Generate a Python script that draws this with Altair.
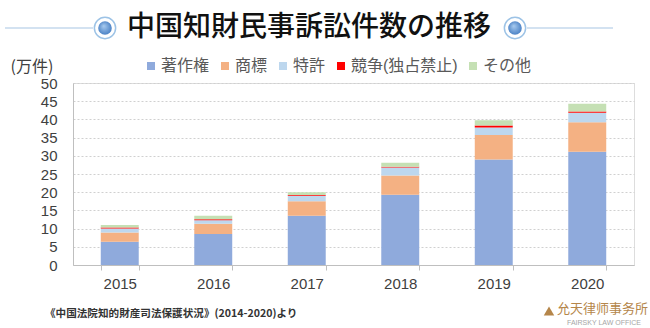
import altair as alt
import pandas as pd

years = ["2015", "2016", "2017", "2018", "2019", "2020"]
series = ["著作権", "商標", "特許", "競争(独占禁止)", "その他"]
copyright_v = [6.4, 8.5, 13.5, 19.3, 29.0, 31.1]
trademark_v = [2.5, 2.8, 4.0, 5.3, 6.7, 8.1]
patent_v = [1.1, 1.0, 1.5, 2.2, 2.1, 2.6]
competition_v = [0.3, 0.3, 0.2, 0.2, 0.5, 0.4]
other_v = [0.7, 0.9, 0.8, 1.1, 1.5, 2.1]
colors = ["#8FAADC", "#F4B183", "#BDD7EE", "#FF0000", "#C5E0B4"]
y_ticks = [0, 5, 10, 15, 20, 25, 30, 35, 40, 45, 50]

title_text = ["中国知財民事訴訟件数の推移"]
unit_text = "(万件)"
source_text = ["《中国法院知的財産司法保護状況》(2014-2020)より"]
logo_cn = ["允天律师事务所"]
logo_en = ["FAIRSKY LAW OFFICE"]

FONT = "Liberation Sans, Noto Sans CJK JP, sans-serif"
CJK = "Noto Sans CJK JP, sans-serif"

rows = []
for i, s in enumerate(series):
    vals = [copyright_v, trademark_v, patent_v, competition_v, other_v][i]
    for y, v in zip(years, vals):
        rows.append({"year": y, "series": s, "order": i, "value": v})
df = pd.DataFrame(rows)

bars = alt.Chart(df).mark_bar().encode(
    x=alt.X("year:N", title=None,
            scale=alt.Scale(paddingInner=0.594, paddingOuter=0.297),
            axis=alt.Axis(labelAngle=0, tickBand="extent", tickSize=5,
                          tickColor="#BFBFBF", domainColor="#BFBFBF",
                          labelPadding=6, labelFontSize=15, labelColor="#404040",
                          labelFont=FONT, grid=False)),
    y=alt.Y("value:Q", stack="zero", title=unit_text,
            scale=alt.Scale(domain=[0, 50], nice=False),
            axis=alt.Axis(values=y_ticks, ticks=False, domainColor="#BFBFBF",
                          gridColor="#D0D0D0", gridDash=[2, 2],
                          labelPadding=16, labelFontSize=15, labelColor="#404040",
                          labelFont=FONT, titleAngle=0, titleAlign="left",
                          titleBaseline="middle", titleX=-63, titleY=-17,
                          titleFontSize=16, titleFontWeight="normal",
                          titleColor="#404040", titleFont=CJK)),
    color=alt.Color("series:N", scale=alt.Scale(domain=series, range=colors),
                    legend=alt.Legend(title=None, orient="none", direction="horizontal",
                                      legendX=70, legendY=-25, symbolType="square",
                                      symbolSize=64, symbolStrokeWidth=0,
                                      labelFontSize=16, labelColor="#595959",
                                      labelFont=FONT, labelOffset=2,
                                      columnPadding=7, padding=0)),
    order=alt.Order("order:Q", sort="ascending"),
)

title_df = pd.DataFrame({"t": title_text})
title = alt.Chart(title_df).mark_text(
    font=CJK, fontSize=28, fontWeight=500, color="#111111",
    align="center", baseline="middle"
).encode(text="t:N", x=alt.value(236), y=alt.value(-55))

deco_df = pd.DataFrame({"k": [0]})
line_l = alt.Chart(deco_df).mark_rule(color="#C5D8EC", strokeWidth=1.5).encode(
    x=alt.value(-68), x2=alt.value(20), y=alt.value(-55))
line_r = alt.Chart(deco_df).mark_rule(color="#C5D8EC", strokeWidth=1.5).encode(
    x=alt.value(454), x2=alt.value(540), y=alt.value(-55))
ring = alt.Chart(pd.DataFrame({"px": [32, 442]})).mark_point(
    shape="circle", size=452, filled=True, fill="#FFFFFF",
    stroke="#9DC3E6", strokeWidth=1.5, opacity=1
).encode(x=alt.X("px:Q", scale=None), y=alt.value(-55))
dot = alt.Chart(pd.DataFrame({"px": [32, 442]})).mark_point(
    shape="circle", size=185, filled=True, strokeWidth=0, opacity=1,
    fill=alt.RadialGradient(gradient="radial", x1=0.4, y1=0.35, x2=0.5, y2=0.5,
                            r1=0, r2=0.6,
                            stops=[alt.GradientStop(color="#A9CBEF", offset=0),
                                   alt.GradientStop(color="#3E78C0", offset=1)])
).encode(x=alt.X("px:Q", scale=None), y=alt.value(-55))

source = alt.Chart(pd.DataFrame({"t": source_text})).mark_text(
    font=CJK, fontSize=10.6, fontWeight="bold", color="#333333",
    align="left", baseline="middle"
).encode(text="t:N", x=alt.value(-28), y=alt.value(231))

logo_icon = alt.Chart(pd.DataFrame({"px": [476]})).mark_point(
    shape="triangle-up", size=110, filled=True, fill="#B5864A", strokeWidth=0, opacity=1
).encode(x=alt.X("px:Q", scale=None), y=alt.value(228))
logo1 = alt.Chart(pd.DataFrame({"t": logo_cn})).mark_text(
    font="Noto Sans CJK SC, sans-serif", fontSize=13, color="#B5864A",
    align="left", baseline="middle"
).encode(text="t:N", x=alt.value(484), y=alt.value(226))
logo2 = alt.Chart(pd.DataFrame({"t": logo_en})).mark_text(
    font="Liberation Sans, sans-serif", fontSize=7, color="#A6A6A6",
    align="left", baseline="middle"
).encode(text="t:N", x=alt.value(494), y=alt.value(240))

chart = alt.layer(bars, line_l, line_r, ring, dot, title, source, logo_icon, logo1, logo2).properties(
    width=561, height=182,
    autosize=alt.AutoSizeParams(type="none"),
    padding={"left": 73, "top": 83, "right": 16, "bottom": 63},
).configure_view(stroke=None).configure(background="#FFFFFF")

chart.save("out.html", embed_options={"renderer": "svg", "actions": False})
